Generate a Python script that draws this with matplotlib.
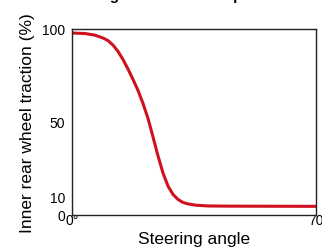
import matplotlib.pyplot as plt

# values
angle = [0, 3.73, 6.60, 8.89, 10.33, 11.76, 13.20, 14.63, 16.07, 17.50, 18.94,
         20.37, 21.80, 23.24, 24.67, 26.11, 27.54, 28.98, 30.41, 31.84, 33.28,
         35.57, 39.02, 45.33, 70]
traction = [97.7, 97.4, 96.5, 95.0, 93.6, 91.2, 87.8, 83.4, 78.3, 72.7, 66.8,
            59.8, 51.8, 41.8, 31.6, 22.4, 15.4, 10.9, 8.2, 6.6, 5.8,
            5.1, 4.7, 4.6, 4.5]

yticks = [0, 10, 50, 100]
xticks = [0, 70]
xticklabels = ['0°', '70']

plt.rcParams['font.family'] = ['Liberation Sans', 'DejaVu Sans']

fig = plt.figure(figsize=(3.22, 2.51), dpi=100)
ax = fig.add_axes([0.2236, 0.1406, 0.7578, 0.7411])

ax.plot(angle, traction, color='#d0101e', linewidth=2.2,
        solid_joinstyle='round', solid_capstyle='butt')
ax.set_xlim(0, 70)
ax.set_ylim(0, 100)
ax.set_yticks(yticks)
ax.set_yticklabels([str(v) for v in yticks], fontsize=10)
ax.set_xticks(xticks)
ax.set_xticklabels(xticklabels, fontsize=10)
ax.tick_params(axis='y', length=0, pad=5)
ax.tick_params(axis='x', length=0, pad=-1.5)
for s in ax.spines.values():
    s.set_linewidth(1.0)
    s.set_color('#222222')

ax.set_xlabel('Steering angle', fontsize=12.5, labelpad=3.5)
ax.set_ylabel('Inner rear wheel traction (%)', fontsize=12.5, labelpad=5)

# title mostly off the top edge, only descenders show
fig.text(0.41, 1.0, 'Traction loss during a turn with an open diff',
         ha='center', va='baseline', fontsize=10.8, fontweight='bold')

fig.savefig('out.png', dpi=100)
